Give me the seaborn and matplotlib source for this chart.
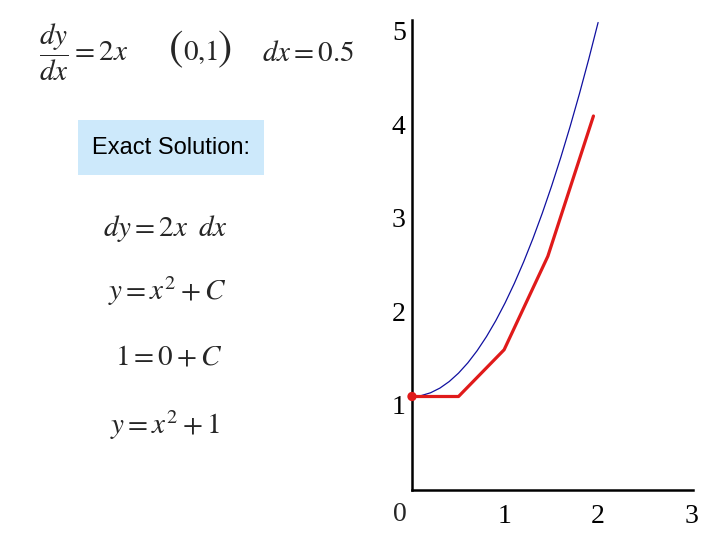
import matplotlib
matplotlib.use("Agg")
import matplotlib.pyplot as plt
import seaborn as sns
import pandas as pd
from matplotlib.patches import Rectangle
from matplotlib.transforms import ScaledTranslation

# Exact solution y = x^2 + 1
exact_x = [0.0, 0.1, 0.2, 0.3, 0.4, 0.5, 0.6, 0.7, 0.8, 0.9, 1.0,
           1.1, 1.2, 1.3, 1.4, 1.5, 1.6, 1.7, 1.8, 1.9, 2.0]
exact_y = [1.0, 1.01, 1.04, 1.09, 1.16, 1.25, 1.36, 1.49, 1.64, 1.81, 2.0,
           2.21, 2.44, 2.69, 2.96, 3.25, 3.56, 3.89, 4.24, 4.61, 5.0]

# Euler approximation, dx = 0.5
euler_x = [0.0, 0.5, 0.99, 1.46, 1.95]
euler_y = [1.0, 1.0, 1.5, 2.5, 4.0]

start_x = [0.0]
start_y = [1.0]

x_ticks = [1, 2, 3]
x_tick_labels = ["1", "2", "3"]
y_ticks = [1, 2, 3, 4, 5]
y_tick_labels = ["1", "2", "3", "4", "5"]

sns.set_style("white")
plt.rcParams["mathtext.fontset"] = "stix"

W, H = 720, 540
fig = plt.figure(figsize=(7.2, 5.4), dpi=100)
ax = fig.add_axes([412 / W, 50 / H, 281 / W, 470.3 / H])

exact = pd.DataFrame({"x": exact_x, "y": exact_y})
euler = pd.DataFrame({"x": euler_x, "y": euler_y})
start = pd.DataFrame({"x": start_x, "y": start_y})

sns.lineplot(data=exact, x="x", y="y", ax=ax, color="#1010a0", linewidth=0.9,
             sort=False, estimator=None, clip_on=False)
sns.lineplot(data=euler, x="x", y="y", ax=ax, color="#e01a1a", linewidth=2.3,
             sort=False, estimator=None, clip_on=False)
sns.scatterplot(data=start, x="x", y="y", ax=ax, color="#e01a1a", s=45,
                edgecolor="none", zorder=5, clip_on=False)

ax.set_xlim(0, 3.02)
ax.set_ylim(0, 5.03)
ax.set_xlabel("")
ax.set_ylabel("")
for s in ["top", "right"]:
    ax.spines[s].set_visible(False)
for s in ["left", "bottom"]:
    ax.spines[s].set_linewidth(1.8)
    ax.spines[s].set_color("black")

ax.set_xticks(x_ticks)
ax.set_xticklabels(x_tick_labels)
ax.set_yticks(y_ticks)
ax.set_yticklabels(y_tick_labels)
for lab in ax.get_xticklabels() + ax.get_yticklabels():
    lab.set_fontfamily("Liberation Serif")
    lab.set_fontsize(20)
ax.tick_params(axis="x", direction="inout", length=8, width=1.5, pad=6, colors="black")
ax.tick_params(axis="y", direction="inout", length=8, width=1.5, pad=0.5, colors="black")
for lab in ax.get_yticklabels():
    lab.set_transform(lab.get_transform() + ScaledTranslation(0, -8 / 100, fig.dpi_scale_trans))
ax.text(-0.13, -0.13, "0", transform=ax.transData, ha="center", va="top",
        fontfamily="Liberation Serif", fontsize=20)


def px(x, y):
    return x / W, 1 - y / H


mfs = 21
fig.text(*px(39, 52), r"$\dfrac{dy}{dx} = 2x$", fontsize=mfs, ha="left", va="center")
fig.text(*px(176, 50), "(", fontsize=31, fontfamily="STIXGeneral", ha="center", va="center")
fig.text(*px(201, 52), r"$0{,}1$", fontsize=mfs, ha="center", va="center")
fig.text(*px(225, 50), ")", fontsize=31, fontfamily="STIXGeneral", ha="center", va="center")
fig.text(*px(262, 53), r"$dx = 0.5$", fontsize=mfs, ha="left", va="center")

fig.patches.append(Rectangle(px(78, 175), 186 / W, 55 / H, transform=fig.transFigure,
                             facecolor="#cde9fb", edgecolor="none", zorder=0))
fig.text(*px(171, 148), "Exact Solution:", fontsize=17, fontfamily="Liberation Sans",
         ha="center", va="center", color="black")

fig.text(*px(103, 229), r"$dy = 2x\;\;dx$", fontsize=mfs, ha="left", va="center")
fig.text(*px(108, 291), r"$y = x^2 + C$", fontsize=mfs, ha="left", va="center")
fig.text(*px(115, 357), r"$1 = 0 + C$", fontsize=mfs, ha="left", va="center")
fig.text(*px(110, 425), r"$y = x^2 + 1$", fontsize=mfs, ha="left", va="center")

fig.savefig("out.png", dpi=100)
